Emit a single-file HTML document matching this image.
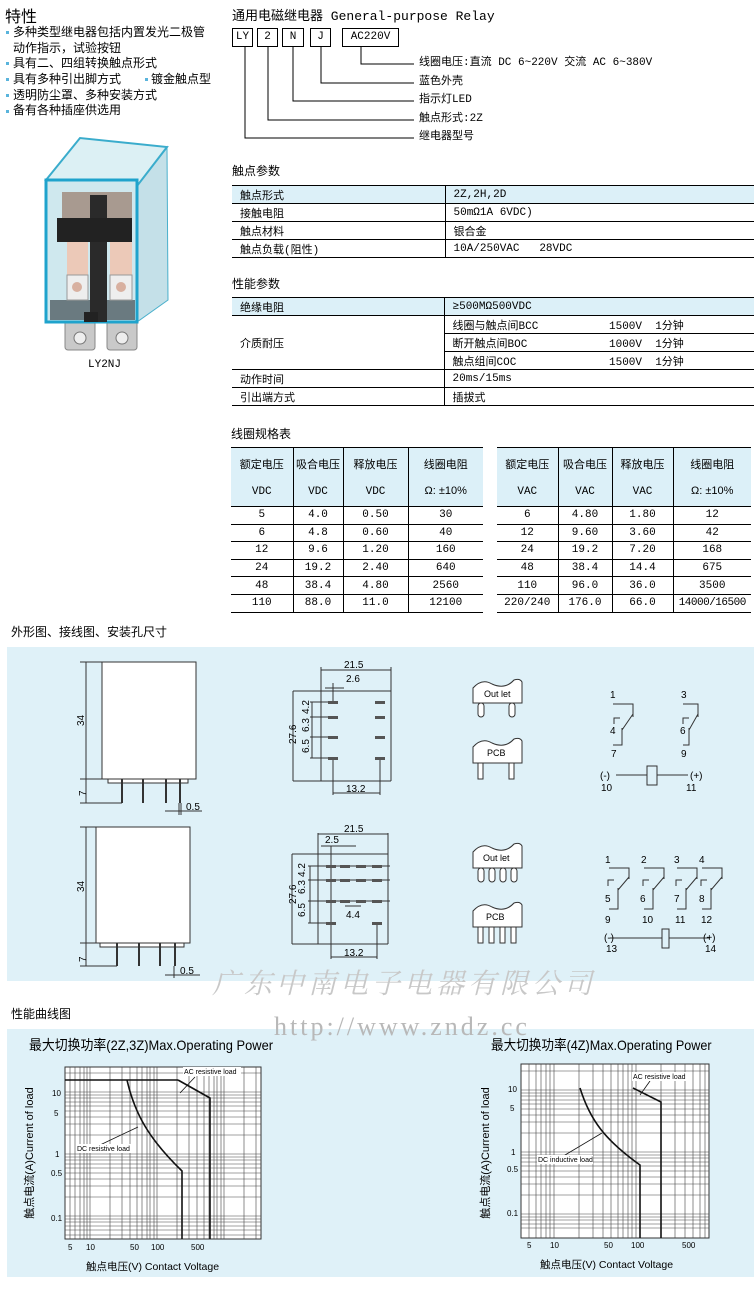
<!DOCTYPE html>
<html><head><meta charset="utf-8">
<style>
*{margin:0;padding:0;box-sizing:border-box}
body{width:754px;height:1293px;background:#fff;position:relative;overflow:hidden;font-family:"Liberation Sans","Noto Sans CJK SC",sans-serif;color:#000}
.a{position:absolute;white-space:nowrap}
.t12{font-size:12px;line-height:14px}
.t11{font-size:11px;line-height:13px}
.mono{font-family:"Liberation Mono","Noto Sans CJK SC",monospace}
.dot{position:absolute;width:3px;height:3px;background:#5ab4dc}
.box{position:absolute;border:1px solid #000;font-size:11px;text-align:center;line-height:17px;height:19px}
table{border-collapse:collapse;position:absolute;font-size:11px}
td{height:18px;padding:0 0 0 8px}
.sp td{border-top:1px solid #000;border-bottom:1px solid #000}
.coil td{border:1px solid #000;text-align:center;padding:0;height:17.6px;font-family:"Liberation Mono","Noto Sans CJK SC",monospace;font-size:11px}
.coil tr.h td{background:#dcf0f8;font-family:"Liberation Sans","Noto Sans CJK SC",sans-serif;height:59px;vertical-align:top;padding-top:4px;line-height:26px}
.coil tr.h td span{font-family:"Liberation Mono",monospace}
.coil tr td:first-child{border-left:none}
.coil tr td:last-child{border-right:none}
</style></head><body>

<div class="a" style="left:5px;top:3px;font-size:16px">特性</div>
<div class="dot" style="left:6px;top:31px"></div><div class="a t12" style="left:13px;top:25px">多种类型继电器包括内置发光二极管</div>
<div class="a t12" style="left:13px;top:41px">动作指示，试验按钮</div>
<div class="dot" style="left:6px;top:62px"></div><div class="a t12" style="left:13px;top:56px">具有二、四组转换触点形式</div>
<div class="dot" style="left:6px;top:78px"></div><div class="a t12" style="left:13px;top:72px">具有多种引出脚方式</div>
<div class="dot" style="left:145px;top:78px"></div><div class="a t12" style="left:151px;top:72px">镀金触点型</div>
<div class="dot" style="left:6px;top:94px"></div><div class="a t12" style="left:13px;top:88px">透明防尘罩、多种安装方式</div>
<div class="dot" style="left:6px;top:110px"></div><div class="a t12" style="left:13px;top:103px">备有各种插座供选用</div>

<svg class="a" style="left:0;top:130px" width="200" height="230" viewBox="0 130 200 230">
<rect x="65" y="318" width="30" height="32" rx="3" fill="#c9c9c9" stroke="#888"/>
<rect x="107" y="318" width="30" height="32" rx="3" fill="#c9c9c9" stroke="#888"/>
<circle cx="80" cy="338" r="6" fill="#eee" stroke="#777"/><circle cx="122" cy="338" r="6" fill="#eee" stroke="#777"/>
<polygon points="137,186 167,147 168,300 137,322" fill="#c4e0e8" stroke="#4ab0cc"/>
<polygon points="46,180 80,138 167,147 137,186" fill="#dcf0f4" stroke="#3aaccc" stroke-width="2"/>
<rect x="46" y="180" width="91" height="142" fill="#cfe8ee" stroke="#1fa3cc" stroke-width="3"/>
<rect x="50" y="300" width="85" height="20" fill="#6a7a80"/>
<rect x="62" y="192" width="70" height="26" fill="#a89a90"/>
<rect x="67" y="242" width="21" height="45" fill="#ecc9b8"/><rect x="110" y="242" width="22" height="45" fill="#ecc9b8"/>
<rect x="67" y="275" width="21" height="25" fill="#eee" stroke="#999"/><rect x="110" y="275" width="22" height="25" fill="#eee" stroke="#999"/>
<circle cx="77" cy="287" r="5" fill="#d8b0a0"/><circle cx="121" cy="287" r="5" fill="#d8b0a0"/>
<rect x="90" y="195" width="17" height="127" fill="#2a2a2a"/>
<rect x="57" y="218" width="75" height="24" fill="#222"/>
<rect x="84" y="312" width="14" height="10" fill="#222"/>
</svg>
<div class="a mono t11" style="left:88px;top:359px">LY2NJ</div>

<div class="a mono" style="left:232px;top:5px;font-size:13px">通用电磁继电器 General-purpose Relay</div>
<div class="box mono" style="left:232px;top:28px;width:21px">LY</div>
<div class="box mono" style="left:257px;top:28px;width:21px">2</div>
<div class="box mono" style="left:282px;top:28px;width:22px">N</div>
<div class="box mono" style="left:310px;top:28px;width:21px">J</div>
<div class="box mono" style="left:342px;top:28px;width:57px">AC220V</div>
<svg class="a" style="left:0;top:0" width="754" height="150">
<g stroke="#000" fill="none" stroke-width="1">
<polyline points="361,47 361,64 414,64"/><polyline points="321,47 321,83 414,83"/>
<polyline points="293,47 293,101 414,101"/><polyline points="268,47 268,120 414,120"/>
<polyline points="245,47 245,138 414,138"/></g></svg>
<div class="a mono t11" style="left:419px;top:57px">线圈电压:直流 DC 6~220V  交流 AC 6~380V</div>
<div class="a mono t11" style="left:419px;top:76px">蓝色外壳</div>
<div class="a mono t11" style="left:419px;top:94px">指示灯LED</div>
<div class="a mono t11" style="left:419px;top:113px">触点形式:2Z</div>
<div class="a mono t11" style="left:419px;top:131px">继电器型号</div>

<div class="a t12" style="left:232px;top:164px">触点参数</div>
<table class="sp mono" style="left:232px;top:185px;width:522px">
<tr style="background:#dcf0f8"><td style="width:213px;border-right:1px solid #000">触点形式</td><td>2Z,2H,2D</td></tr>
<tr><td style="border-right:1px solid #000">接触电阻</td><td>50mΩ1A 6VDC)</td></tr>
<tr><td style="border-right:1px solid #000">触点材料</td><td>银合金</td></tr>
<tr><td style="border-right:1px solid #000">触点负载(阻性)</td><td>10A/250VAC&nbsp;&nbsp;&nbsp;28VDC</td></tr>
</table>

<div class="a t12" style="left:232px;top:277px">性能参数</div>
<table class="sp mono" style="left:232px;top:297px;width:522px">
<tr style="background:#dcf0f8"><td style="width:212px;border-right:1px solid #000">绝缘电阻</td><td>≥500MΩ500VDC</td></tr>
<tr><td rowspan="3" style="border-right:1px solid #000">介质耐压</td><td>线圈与触点间BCC<span style="position:absolute;left:377px">1500V&nbsp;&nbsp;1分钟</span></td></tr>
<tr><td>断开触点间BOC<span style="position:absolute;left:377px">1000V&nbsp;&nbsp;1分钟</span></td></tr>
<tr><td>触点组间COC<span style="position:absolute;left:377px">1500V&nbsp;&nbsp;1分钟</span></td></tr>
<tr><td style="border-right:1px solid #000">动作时间</td><td>20ms/15ms</td></tr>
<tr><td style="border-right:1px solid #000">引出端方式</td><td>插拔式</td></tr>
</table>

<div class="a t12" style="left:231px;top:427px">线圈规格表</div>
<table class="coil" style="left:231px;top:447px;width:252px">
<tr class="h"><td style="width:62px">额定电压<br><span>VDC</span></td><td style="width:50px">吸合电压<br><span>VDC</span></td><td style="width:65px">释放电压<br><span>VDC</span></td><td>线圈电阻<br>Ω: ±10%</td></tr>
<tr><td>5</td><td>4.0</td><td>0.50</td><td>30</td></tr>
<tr><td>6</td><td>4.8</td><td>0.60</td><td>40</td></tr>
<tr><td>12</td><td>9.6</td><td>1.20</td><td>160</td></tr>
<tr><td>24</td><td>19.2</td><td>2.40</td><td>640</td></tr>
<tr><td>48</td><td>38.4</td><td>4.80</td><td>2560</td></tr>
<tr><td>110</td><td>88.0</td><td>11.0</td><td>12100</td></tr>
</table>
<table class="coil" style="left:497px;top:447px;width:254px">
<tr class="h"><td style="width:61px">额定电压<br><span>VAC</span></td><td style="width:54px">吸合电压<br><span>VAC</span></td><td style="width:61px">释放电压<br><span>VAC</span></td><td>线圈电阻<br>Ω: ±10%</td></tr>
<tr><td>6</td><td>4.80</td><td>1.80</td><td>12</td></tr>
<tr><td>12</td><td>9.60</td><td>3.60</td><td>42</td></tr>
<tr><td>24</td><td>19.2</td><td>7.20</td><td>168</td></tr>
<tr><td>48</td><td>38.4</td><td>14.4</td><td>675</td></tr>
<tr><td>110</td><td>96.0</td><td>36.0</td><td>3500</td></tr>
<tr><td>220/240</td><td>176.0</td><td>66.0</td><td style="letter-spacing:-0.5px">14000/16500</td></tr>
</table>

<div class="a t12" style="left:11px;top:625px">外形图、接线图、安装孔尺寸</div>
<div class="a" style="left:7px;top:647px;width:747px;height:334px;background:#dff1f8"></div>
<svg class="a" style="left:0;top:640px" width="754" height="345" viewBox="0 640 754 345" font-family="Liberation Sans" font-size="10">
<g stroke="#333" fill="none" stroke-width="1">
<rect x="102" y="662" width="94" height="117" fill="#fff"/>
<line x1="86" y1="662" x2="86" y2="803"/><line x1="80" y1="662" x2="102" y2="662"/><line x1="80" y1="779" x2="102" y2="779"/><line x1="80" y1="803" x2="122" y2="803"/>
<rect x="108" y="779" width="80" height="4" fill="#fff"/>
<line x1="122" y1="779" x2="122" y2="803" stroke-width="2"/><line x1="143" y1="779" x2="143" y2="803" stroke-width="2"/><line x1="166" y1="779" x2="166" y2="803" stroke-width="2"/><line x1="180" y1="779" x2="180" y2="803" stroke-width="2"/>
<line x1="165" y1="811" x2="202" y2="811"/><line x1="179" y1="803" x2="179" y2="815"/><line x1="181" y1="803" x2="181" y2="815"/>
<rect x="96" y="827" width="94" height="116" fill="#fff"/>
<line x1="86" y1="827" x2="86" y2="966"/><line x1="80" y1="827" x2="96" y2="827"/><line x1="80" y1="943" x2="96" y2="943"/><line x1="80" y1="966" x2="117" y2="966"/>
<rect x="100" y="943" width="84" height="4" fill="#fff"/>
<line x1="117" y1="943" x2="117" y2="966" stroke-width="2"/><line x1="139" y1="943" x2="139" y2="966" stroke-width="2"/><line x1="160" y1="943" x2="160" y2="966" stroke-width="2"/><line x1="175" y1="943" x2="175" y2="966" stroke-width="2"/>
<line x1="165" y1="975" x2="200" y2="975"/><line x1="174" y1="966" x2="174" y2="978"/>
<line x1="293" y1="691" x2="391" y2="691"/><line x1="293" y1="781" x2="391" y2="781"/>
<line x1="293" y1="691" x2="293" y2="781"/><line x1="321" y1="667" x2="321" y2="781"/><line x1="391" y1="667" x2="391" y2="781"/>
<line x1="321" y1="670" x2="391" y2="670"/><line x1="325" y1="688" x2="344" y2="688"/><line x1="333" y1="683" x2="333" y2="702"/>
<line x1="312" y1="702" x2="312" y2="758"/>
<line x1="310" y1="702" x2="333" y2="702"/><line x1="310" y1="717" x2="333" y2="717"/><line x1="310" y1="737" x2="333" y2="737"/><line x1="310" y1="758" x2="333" y2="758"/>
<line x1="333" y1="758" x2="333" y2="795"/><line x1="380" y1="758" x2="380" y2="795"/><line x1="333" y1="793" x2="380" y2="793"/>
<line x1="292" y1="854" x2="388" y2="854"/><line x1="292" y1="944" x2="388" y2="944"/>
<line x1="292" y1="854" x2="292" y2="944"/><line x1="318" y1="833" x2="318" y2="944"/><line x1="388" y1="833" x2="388" y2="944"/>
<line x1="318" y1="834" x2="388" y2="834"/><line x1="321" y1="846" x2="356" y2="846"/>
<line x1="310" y1="866" x2="310" y2="923"/>
<line x1="308" y1="866" x2="390" y2="866"/><line x1="308" y1="880" x2="390" y2="880"/><line x1="308" y1="901" x2="390" y2="901"/><line x1="308" y1="923" x2="331" y2="923"/>
<line x1="331" y1="846" x2="331" y2="959"/><line x1="377" y1="923" x2="377" y2="959"/><line x1="331" y1="957" x2="377" y2="957"/>
<line x1="345" y1="906" x2="361" y2="906"/>
</g>
<g fill="#555">
<rect x="328" y="701" width="10" height="3"/><rect x="375" y="701" width="10" height="3"/>
<rect x="328" y="716" width="10" height="3"/><rect x="375" y="716" width="10" height="3"/>
<rect x="328" y="736" width="10" height="3"/><rect x="375" y="736" width="10" height="3"/>
<rect x="328" y="757" width="10" height="3"/><rect x="375" y="757" width="10" height="3"/>
<rect x="326" y="865" width="10" height="3"/><rect x="340" y="865" width="10" height="3"/><rect x="356" y="865" width="10" height="3"/><rect x="372" y="865" width="10" height="3"/>
<rect x="326" y="879" width="10" height="3"/><rect x="340" y="879" width="10" height="3"/><rect x="356" y="879" width="10" height="3"/><rect x="372" y="879" width="10" height="3"/>
<rect x="326" y="900" width="10" height="3"/><rect x="340" y="900" width="10" height="3"/><rect x="356" y="900" width="10" height="3"/><rect x="372" y="900" width="10" height="3"/>
<rect x="326" y="922" width="10" height="3"/><rect x="372" y="922" width="10" height="3"/>
</g>
<g fill="#000">
<text x="76" y="726" transform="rotate(-90 80 722)">34</text>
<text x="78" y="796" transform="rotate(-90 82 792)">7</text>
<text x="186" y="810">0.5</text>
<text x="76" y="892" transform="rotate(-90 80 888)">34</text>
<text x="78" y="962" transform="rotate(-90 82 958)">7</text>
<text x="180" y="974">0.5</text>
<text x="344" y="668">21.5</text><text x="346" y="682">2.6</text>
<text x="280" y="742" transform="rotate(-90 289 735)">27.6</text>
<text x="300" y="713" transform="rotate(-90 305 709)">4.2</text>
<text x="300" y="731" transform="rotate(-90 305 727)">6.3</text>
<text x="300" y="752" transform="rotate(-90 305 748)">6.5</text>
<text x="346" y="792">13.2</text>
<text x="344" y="832">21.5</text><text x="325" y="843">2.5</text>
<text x="280" y="902" transform="rotate(-90 289 895)">27.6</text>
<text x="296" y="876" transform="rotate(-90 301 872)">4.2</text>
<text x="296" y="893" transform="rotate(-90 301 889)">6.3</text>
<text x="296" y="916" transform="rotate(-90 301 912)">6.5</text>
<text x="346" y="918">4.4</text>
<text x="344" y="956">13.2</text>
</g>
<g stroke="#333" fill="#fff" stroke-width="1">
<path d="M473,703 L473,688 Q482,678 492,684 Q505,690 514,680 Q520,678 522,682 L522,703 Z"/>
<rect x="478" y="703" width="6" height="14" rx="3"/><rect x="509" y="703" width="6" height="14" rx="3"/>
<path d="M473,763 L473,747 Q482,737 492,743 Q505,749 514,739 Q520,737 522,741 L522,763 Z"/>
<rect x="478" y="763" width="5" height="16"/><rect x="509" y="763" width="5" height="16"/>
<path d="M473,868 L473,852 Q482,842 492,848 Q505,854 514,844 Q520,842 522,846 L522,868 Z"/>
<rect x="478" y="868" width="6" height="14" rx="3"/><rect x="489" y="868" width="6" height="14" rx="3"/><rect x="500" y="868" width="6" height="14" rx="3"/><rect x="511" y="868" width="6" height="14" rx="3"/>
<path d="M473,927 L473,911 Q482,901 492,907 Q505,913 514,903 Q520,901 522,905 L522,927 Z"/>
<rect x="478" y="927" width="5" height="16"/><rect x="489" y="927" width="5" height="16"/><rect x="500" y="927" width="5" height="16"/><rect x="511" y="927" width="5" height="16"/>
</g>
<g font-size="9" fill="#000"><text x="484" y="697">Out let</text><text x="487" y="756">PCB</text><text x="483" y="861">Out let</text><text x="486" y="920">PCB</text></g>
<g stroke="#333" fill="none" stroke-width="1">
<polyline points="613,704 633,704 633,717"/><line x1="633" y1="714" x2="622" y2="730"/><polyline points="614,724 614,718 620,718"/><polyline points="622,728 622,745 613,745"/>
<polyline points="683,704 698,704 698,717"/><line x1="698" y1="714" x2="689" y2="730"/><polyline points="683,724 683,718 689,718"/><polyline points="689,728 689,745 683,745"/>
<line x1="616" y1="775" x2="647" y2="775"/><rect x="647" y="766" width="10" height="19"/><line x1="657" y1="775" x2="688" y2="775"/>
<g id="c4">
<polyline points="609,868 629,868 629,879"/><line x1="629" y1="877" x2="618" y2="890"/><polyline points="608,886 608,880 614,880"/><polyline points="618,888 618,909 609,909"/>
</g>
<use href="#c4" x="35"/><use href="#c4" x="68"/><use href="#c4" x="93"/>
<line x1="610" y1="938" x2="662" y2="938"/><rect x="662" y="929" width="7" height="19"/><line x1="669" y1="938" x2="710" y2="938"/>
</g>
<g fill="#000" font-size="10">
<text x="610" y="698">1</text><text x="681" y="698">3</text><text x="610" y="734">4</text><text x="680" y="734">6</text>
<text x="611" y="757">7</text><text x="681" y="757">9</text>
<text x="600" y="779">(-)</text><text x="690" y="779">(+)</text><text x="601" y="791">10</text><text x="686" y="791">11</text>
<text x="605" y="863">1</text><text x="641" y="863">2</text><text x="674" y="863">3</text><text x="699" y="863">4</text>
<text x="605" y="902">5</text><text x="640" y="902">6</text><text x="674" y="902">7</text><text x="699" y="902">8</text>
<text x="605" y="923">9</text><text x="642" y="923">10</text><text x="675" y="923">11</text><text x="701" y="923">12</text>
<text x="604" y="941">(-)</text><text x="703" y="941">(+)</text><text x="606" y="952">13</text><text x="705" y="952">14</text>
</g>
</svg>
<div class="a" style="left:212px;top:962px;font-size:28px;letter-spacing:4px;color:#c8c8c8;font-style:italic;font-family:'Noto Serif CJK SC',serif">广东中南电子电器有限公司</div>

<div class="a t12" style="left:11px;top:1007px">性能曲线图</div>
<div class="a" style="left:7px;top:1029px;width:747px;height:248px;background:#dff1f8"></div>
<div class="a" style="left:274px;top:1012px;font-size:26px;letter-spacing:3px;color:#b8b8b8;font-family:'Liberation Serif',serif">http://www.zndz.cc</div>
<div class="a" style="left:29px;top:1035px;font-size:14px;transform:scaleX(.92);transform-origin:left">最大切换功率(2Z,3Z)Max.Operating Power</div>
<div class="a" style="left:491px;top:1035px;font-size:14px;transform:scaleX(.9);transform-origin:left">最大切换功率(4Z)Max.Operating Power</div>
<svg class="a" style="left:0;top:1055px" width="754" height="225" viewBox="0 1055 754 225" font-family="Liberation Sans">
<g stroke="#444" stroke-width="0.6">
<rect x="65" y="1067" width="196" height="172" fill="#fff" stroke="#333" stroke-width="1"/>
<path d="M70,1067V1239M75,1067V1239M80,1067V1239M84,1067V1239M87,1067V1239M90,1067V1239M110,1067V1239M122,1067V1239M130,1067V1239M137,1067V1239M142,1067V1239M147,1067V1239M150,1067V1239M154,1067V1239M157,1067V1239M177,1067V1239M189,1067V1239M197,1067V1239M204,1067V1239M209,1067V1239M214,1067V1239M217,1067V1239M221,1067V1239M224,1067V1239M244,1067V1239M256,1067V1239"/>
<path d="M65,1073H261M65,1092H261M65,1095H261M65,1098H261M65,1102H261M65,1106H261M65,1111H261M65,1117H261M65,1124H261M65,1135H261M65,1154H261M65,1157H261M65,1160H261M65,1164H261M65,1168H261M65,1173H261M65,1179H261M65,1186H261M65,1197H261M65,1216H261M65,1219H261M65,1222H261M65,1226H261M65,1230H261M65,1235H261"/>
<rect x="521" y="1064" width="188" height="174" fill="#fff" stroke="#333" stroke-width="1"/>
<path d="M529,1064V1238M536,1064V1238M541,1064V1238M546,1064V1238M550,1064V1238M554,1064V1238M579,1064V1238M593,1064V1238M603,1064V1238M611,1064V1238M618,1064V1238M623,1064V1238M628,1064V1238M632,1064V1238M636,1064V1238M661,1064V1238M675,1064V1238M685,1064V1238M693,1064V1238M700,1064V1238M705,1064V1238"/>
<path d="M521,1071H709M521,1090H709M521,1093H709M521,1096H709M521,1100H709M521,1104H709M521,1109H709M521,1115H709M521,1122H709M521,1133H709M521,1152H709M521,1155H709M521,1158H709M521,1162H709M521,1166H709M521,1171H709M521,1177H709M521,1184H709M521,1195H709M521,1214H709M521,1217H709M521,1220H709M521,1224H709M521,1228H709"/>
</g>
<g stroke="#111" stroke-width="1.6" fill="none">
<line x1="65" y1="1080" x2="178" y2="1080"/>
<polyline points="178,1080 210,1098 210,1239"/>
<path d="M127,1080 C135,1115 150,1140 182,1171 L182,1239"/>
<polyline points="633,1088 661,1102 661,1238"/>
<path d="M580,1088 C590,1120 605,1140 640,1165 L640,1238"/>
</g>
<g stroke="#111" stroke-width="0.8"><line x1="195" y1="1077" x2="180" y2="1093"/><line x1="100" y1="1145" x2="138" y2="1127"/><line x1="650" y1="1081" x2="640" y2="1095"/><line x1="560" y1="1158" x2="602" y2="1133"/></g>
<g font-size="7" fill="#000">
<rect x="183" y="1067" width="58" height="9" fill="#fff"/><text x="184" y="1074">AC resistive load</text>
<rect x="76" y="1144" width="56" height="9" fill="#fff"/><text x="77" y="1151">DC resistive load</text>
<rect x="632" y="1072" width="58" height="9" fill="#fff"/><text x="633" y="1079">AC resistive load</text>
<rect x="537" y="1155" width="56" height="9" fill="#fff"/><text x="538" y="1162">DC inductive load</text>
<g font-size="8">
<text x="52" y="1096">10</text><text x="54" y="1116">5</text><text x="55" y="1157">1</text><text x="51" y="1176">0.5</text><text x="51" y="1221">0.1</text>
<text x="68" y="1250">5</text><text x="86" y="1250">10</text><text x="130" y="1250">50</text><text x="151" y="1250">100</text><text x="191" y="1250">500</text>
<text x="508" y="1092">10</text><text x="510" y="1111">5</text><text x="511" y="1155">1</text><text x="507" y="1172">0.5</text><text x="507" y="1216">0.1</text>
<text x="527" y="1248">5</text><text x="550" y="1248">10</text><text x="604" y="1248">50</text><text x="631" y="1248">100</text><text x="682" y="1248">500</text>
</g></g>
<g font-size="11" fill="#000">
<text x="38" y="1158" transform="rotate(-90 33 1158)" text-anchor="middle" font-size="11">触点电流(A)Current of load</text>
<text x="494" y="1158" transform="rotate(-90 489 1158)" text-anchor="middle" font-size="11">触点电流(A)Current of load</text>
<text x="86" y="1270" font-size="10.5">触点电压(V) Contact Voltage</text>
<text x="540" y="1268" font-size="10.5">触点电压(V) Contact Voltage</text>
</g>
</svg>
</body></html>
